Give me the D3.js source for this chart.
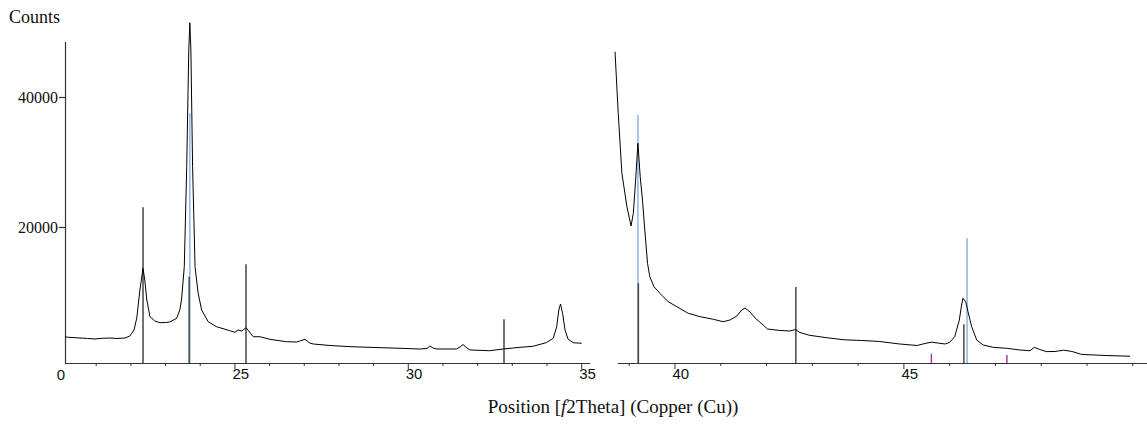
<!DOCTYPE html>
<html>
<head>
<meta charset="utf-8">
<script src="https://cdn.jsdelivr.net/npm/d3@7"></script>
<style>
  body { margin: 0; background: #fff; }
  svg { display: block; }
  .tick-sans { font-family: "Liberation Sans", Arial, sans-serif; font-size: 15px; fill: #111; }
  .serif { font-family: "Liberation Serif", "Times New Roman", serif; fill: #111; }
</style>
</head>
<body>
<svg id="chart" width="1147" height="427"></svg>
<script>
// measured pattern, [2theta, counts]
var patternLeft = [
  [20.10,3080],[20.30,3000],[20.53,2920],[20.75,2850],[20.96,2770],[21.18,2880],[21.39,2920],[21.60,2850],
  [21.83,2920],[21.97,3230],[22.09,4150],[22.17,6000],[22.26,10300],[22.35,13650],[22.40,11850],[22.46,8770],
  [22.55,6200],[22.69,5540],[22.84,5280],[23.00,5300],[23.12,5390],[23.32,5950],[23.41,7230],[23.46,8770],
  [23.54,13890],[23.61,29280],[23.67,47230],[23.70,51430],[23.73,47230],[23.78,29280],[23.85,13890],[23.94,9800],
  [24.04,7230],[24.23,5430],[24.47,4660],[24.85,4050],[25.00,3800],[25.09,4150],[25.20,4000],[25.32,4510],
  [25.53,3120],[25.72,3120],[26.01,2720],[26.49,2350],[26.78,2310],[26.87,2460],[27.02,2720],[27.16,2150],
  [27.26,2000],[27.74,1770],[28.32,1590],[29.04,1460],[29.76,1340],[30.33,1230],[30.54,1310],[30.62,1690],
  [30.71,1390],[30.82,1230],[31.39,1230],[31.49,1540],[31.58,1920],[31.69,1390],[31.78,1080],[32.35,970],
  [32.74,1230],[33.22,1490],[33.60,1650],[33.99,2230],[34.18,2880],[34.28,4660],[34.34,7230],[34.39,8150],
  [34.45,6720],[34.52,4150],[34.61,2720],[34.76,2200],[35.00,2110]
];

var patternRight = [
  [38.69,46970],[38.76,37490],[38.84,28260],[38.95,23120],[39.04,20150],[39.09,22110],[39.14,27230],[39.19,32880],
  [39.24,27740],[39.29,24150],[39.34,19540],[39.40,14420],[39.45,12350],[39.54,10820],[39.67,9800],[39.85,8510],
  [40.04,7740],[40.29,6720],[40.55,6200],[40.84,5800],[41.05,5430],[41.20,5690],[41.35,6310],[41.46,7230],
  [41.53,7540],[41.64,6920],[41.75,6000],[41.90,5080],[42.02,4310],[42.29,4080],[42.51,4000],[42.63,4230],
  [42.73,3770],[42.93,3350],[43.28,3000],[43.69,2650],[44.08,2540],[44.46,2390],[44.91,2000],[45.29,1770],
  [45.46,2080],[45.60,2280],[45.74,2150],[45.90,2000],[46.00,2260],[46.11,3120],[46.21,5690],[46.26,8000],
  [46.29,9030],[46.35,8510],[46.40,6970],[46.48,4660],[46.59,2620],[46.73,1850],[46.95,1490],[47.24,1340],
  [47.53,1080],[47.75,970],[47.85,1480],[47.97,1150],[48.11,830],[48.30,850],[48.49,1050],[48.67,850],
  [48.88,400],[49.41,230],[49.94,120]
];

// reference pattern sticks, [2theta, counts]
var sticksBlack = [[22.35,23030],[23.68,12350],[25.32,14260],[32.76,5800],[39.20,11340],[42.64,10770],[46.31,5030]];
var sticksBlue = [[23.70,37490],[39.19,37230],[46.38,18260]];
var sticksMagenta = [[45.60,510],[47.25,290]];

var yTicks = [20000, 40000];
var leftMajor = [25, 30, 35];
var leftMinor = [21, 22, 23, 24, 26, 27, 28, 29, 31, 32, 33, 34];
var rightMajor = [40, 45];
var rightMinor = [39, 41, 42, 43, 44, 46, 47, 48, 49, 50];

var svg = d3.select("#chart");
var base = 363;

var y = d3.scaleLinear().domain([-923, 51846]).range([base, 20]);
var xLeft = d3.scaleLinear().domain([20.1, 35.24]).range([65, 590]);
var xRight = d3.scaleLinear().domain([38.755, 50.31]).range([618, 1147]);

// y axis
svg.append("line")
    .attr("x1", 65.5).attr("x2", 65.5)
    .attr("y1", 42).attr("y2", base)
    .attr("stroke", "#333").attr("stroke-width", 1.2);

yTicks.forEach(function(v){
    var yy = Math.round(y(v)) + 0.5;
    svg.append("line")
        .attr("x1", 59).attr("x2", 65.5)
        .attr("y1", yy).attr("y2", yy)
        .attr("stroke", "#333").attr("stroke-width", 1.2);
    svg.append("text")
        .attr("class", "serif")
        .attr("x", 58).attr("y", yy)
        .attr("dy", "0.35em")
        .attr("text-anchor", "end")
        .attr("font-size", 16)
        .text(v);
});

svg.append("text").attr("class", "serif")
    .attr("x", 9).attr("y", 23)
    .attr("font-size", 18)
    .text("Counts");

function drawXAxis(x, major, minor){
    var r = x.range();
    svg.append("line")
        .attr("x1", r[0]).attr("x2", r[1])
        .attr("y1", base + 0.5).attr("y2", base + 0.5)
        .attr("stroke", "#333").attr("stroke-width", 1.2);
    minor.forEach(function(t){
        svg.append("line")
            .attr("x1", x(t)).attr("x2", x(t))
            .attr("y1", base).attr("y2", base + 3)
            .attr("stroke", "#333").attr("stroke-width", 1);
    });
    major.forEach(function(t){
        svg.append("line")
            .attr("x1", x(t)).attr("x2", x(t))
            .attr("y1", base).attr("y2", base + 6)
            .attr("stroke", "#333").attr("stroke-width", 1);
        svg.append("text")
            .attr("class", "tick-sans")
            .attr("x", x(t) - 2.5).attr("y", 378.5)
            .text(t);
    });
}

drawXAxis(xLeft, leftMajor, leftMinor);
drawXAxis(xRight, rightMajor, rightMinor);

// lone zero label under the y axis
svg.append("text").attr("class", "tick-sans")
    .attr("x", 61).attr("y", 380)
    .attr("text-anchor", "middle")
    .text("0");

function xFor(t){
    return t < 37 ? xLeft(t) : xRight(t);
}

function drawSticks(data, color){
    data.forEach(function(d){
        svg.append("line")
            .attr("x1", xFor(d[0])).attr("x2", xFor(d[0]))
            .attr("y1", base).attr("y2", y(d[1]))
            .attr("stroke", color).attr("stroke-width", 1.5);
    });
}

drawSticks(sticksBlue, "#8fb4e3");
drawSticks(sticksBlack, "#454545");
drawSticks(sticksMagenta, "#a43fa4");

var lineLeft = d3.line().x(function(d){ return xLeft(d[0]); }).y(function(d){ return y(d[1]); });
var lineRight = d3.line().x(function(d){ return xRight(d[0]); }).y(function(d){ return y(d[1]); });

svg.append("path").datum(patternLeft)
    .attr("d", lineLeft)
    .attr("fill", "none").attr("stroke", "#000").attr("stroke-width", 1);

svg.append("path").datum(patternRight)
    .attr("d", lineRight)
    .attr("fill", "none").attr("stroke", "#000").attr("stroke-width", 1);

// axis title
var title = svg.append("text").attr("class", "serif")
    .attr("x", 613).attr("y", 413)
    .attr("text-anchor", "middle")
    .attr("font-size", 19);
title.append("tspan").text("Position [");
title.append("tspan").attr("font-style", "italic").text("f");
title.append("tspan").text("2Theta] (Copper (Cu))");
</script>
</body>
</html>
